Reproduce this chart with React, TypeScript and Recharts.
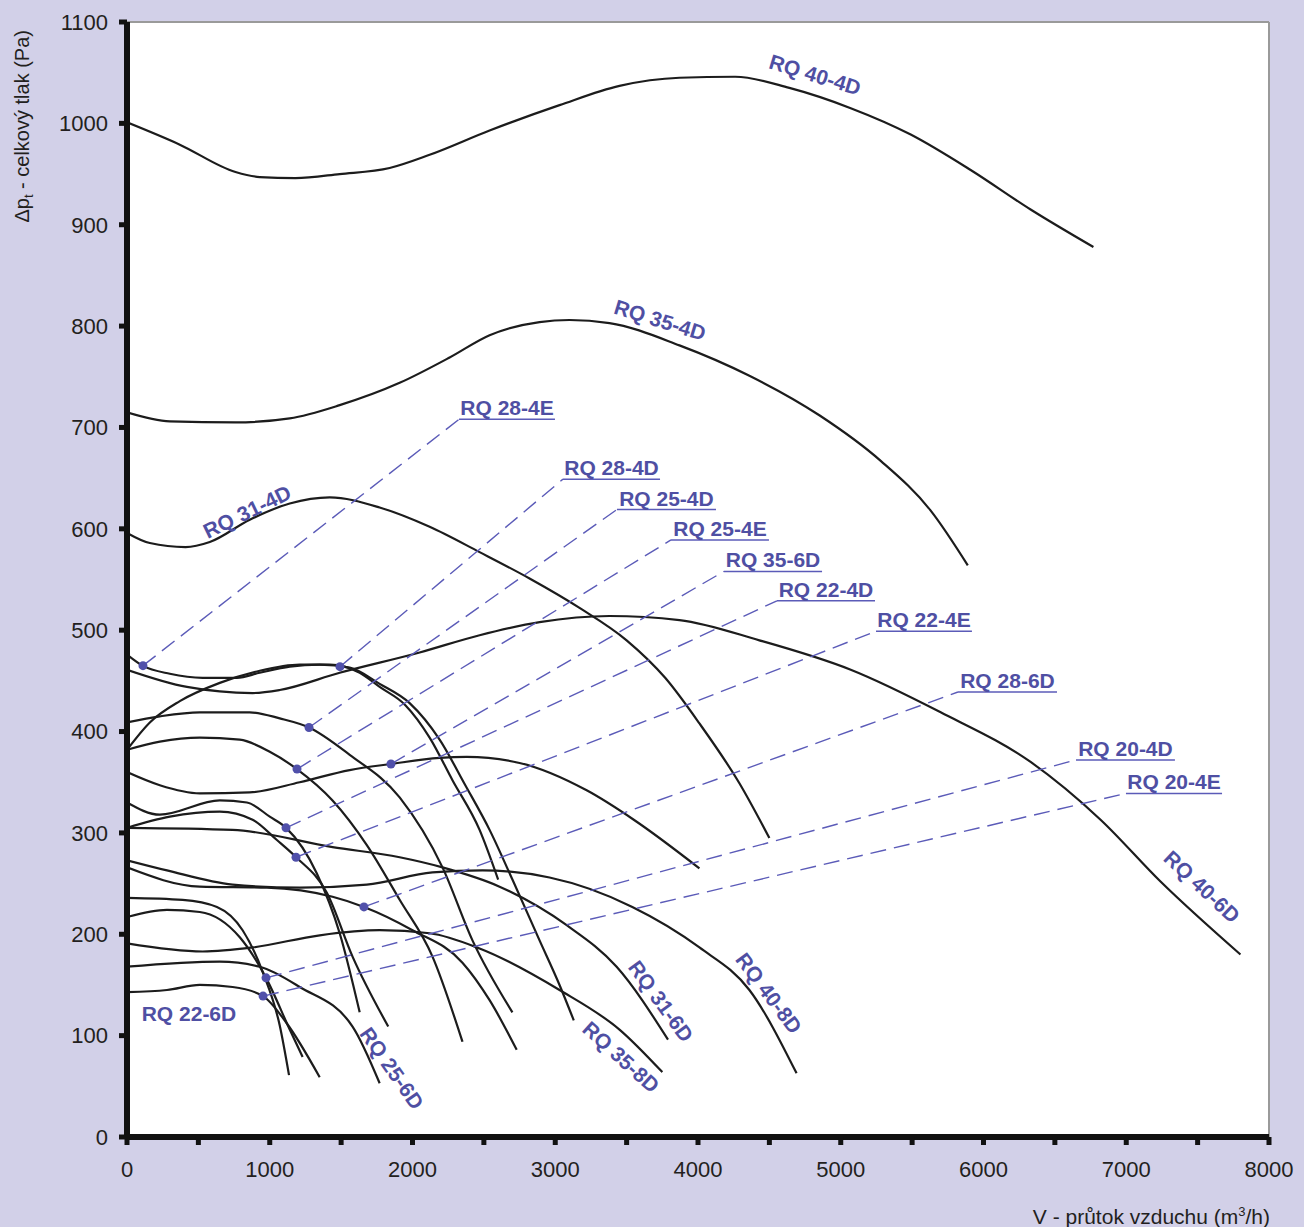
import React from 'react';
import { ComposedChart, Line, XAxis, YAxis, ReferenceLine, ReferenceDot, CartesianGrid } from 'recharts';

// ---- fan curves: flow (m3/h) and total pressure (Pa) ----
const RQ40_4D_X = [0, 370, 760, 930, 1180, 1490, 1840, 2120, 2540, 3030, 3450, 3870, 4260, 4640, 5070, 5490, 5910, 6330, 6770];
const RQ40_4D_Y = [1001, 979, 952, 947, 946, 950, 956, 969, 993, 1018, 1037, 1045, 1046, 1035, 1015, 989, 954, 915, 878];
const RQ35_4D_X = [0, 300, 760, 1140, 1490, 1910, 2260, 2540, 2890, 3100, 3380, 3870, 4360, 4850, 5280, 5630, 5890];
const RQ35_4D_Y = [715, 706, 705, 709, 722, 744, 769, 791, 804, 806, 803, 781, 751, 712, 667, 618, 564];
const RQ31_4D_X = [0, 160, 410, 580, 860, 1140, 1420, 1770, 2120, 2470, 2820, 3170, 3500, 3770, 4010, 4290, 4500];
const RQ31_4D_Y = [596, 586, 582, 587, 609, 625, 631, 621, 602, 577, 551, 522, 490, 453, 408, 349, 295];
const RQ40_6D_X = [0, 420, 880, 1070, 1490, 2050, 2470, 2890, 3380, 3870, 4430, 5070, 5700, 6330, 6820, 7240, 7800];
const RQ40_6D_Y = [461, 444, 438, 441, 458, 478, 495, 508, 514, 510, 490, 461, 419, 370, 313, 252, 180];
const RQ28_4E_X = [0, 110, 300, 530, 770, 930, 1140, 1350, 1560, 1770, 1980, 2190, 2370, 2540, 2700, 2890, 3030, 3130];
const RQ28_4E_Y = [476, 465, 457, 453, 453, 458, 464, 466, 463, 447, 428, 392, 347, 303, 254, 194, 150, 115];
const RQ28_4D_X = [0, 160, 370, 650, 930, 1210, 1420, 1630, 1770, 1950, 2120, 2280, 2470, 2600];
const RQ28_4D_Y = [382, 409, 430, 448, 460, 466, 466, 458, 444, 426, 394, 352, 303, 254];
const RQ25_4D_X = [0, 230, 510, 860, 1070, 1275, 1560, 1910, 2210, 2420, 2700];
const RQ25_4D_Y = [409, 415, 419, 419, 413, 404, 377, 335, 266, 194, 123];
const RQ25_4E_X = [0, 230, 510, 790, 1000, 1190, 1440, 1680, 1910, 2140, 2350];
const RQ25_4E_Y = [382, 390, 394, 392, 380, 363, 332, 288, 234, 178, 94];
const RQ35_6D_X = [0, 230, 510, 860, 1210, 1560, 1850, 2190, 2380, 2750, 3220, 3550, 4010];
const RQ35_6D_Y = [360, 347, 339, 340, 350, 362, 368, 374, 375, 369, 342, 313, 265];
const RQ22_4D_X = [0, 230, 650, 840, 1000, 1115, 1330, 1490, 1630];
const RQ22_4D_Y = [330, 318, 332, 330, 316, 305, 260, 201, 123];
const RQ22_4E_X = [0, 300, 650, 880, 1050, 1185, 1400, 1580, 1830];
const RQ22_4E_Y = [305, 316, 321, 313, 293, 276, 241, 178, 109];
const RQ31_6D_X = [0, 740, 1440, 1910, 2210, 2610, 3080, 3430, 3790];
const RQ31_6D_Y = [305, 303, 286, 276, 266, 247, 209, 168, 96];
const RQ40_8D_X = [0, 280, 740, 1210, 1680, 2140, 2490, 2960, 3540, 4010, 4360, 4690];
const RQ40_8D_Y = [273, 263, 249, 246, 249, 261, 263, 256, 227, 187, 145, 63];
const RQ28_6D_X = [0, 510, 980, 1440, 1660, 2000, 2350, 2540, 2730];
const RQ28_6D_Y = [266, 247, 246, 237, 227, 204, 172, 135, 86];
const RQ35_8D_X = [0, 530, 880, 1350, 1770, 2120, 2470, 3030, 3450, 3750];
const RQ35_8D_Y = [191, 183, 187, 199, 204, 201, 186, 145, 106, 64];
const RQ25_6D_X = [0, 650, 930, 1210, 1580, 1770];
const RQ25_6D_Y = [168, 173, 168, 148, 109, 53];
const RQ20_4E_X = [0, 280, 510, 740, 953, 1120, 1350];
const RQ20_4E_Y = [143, 145, 150, 148, 139, 112, 59];
const RQ20_4D_X = [0, 280, 510, 790, 974, 1140, 1230];
const RQ20_4D_Y = [217, 224, 222, 197, 157, 106, 79];
const RQ22_6D_X = [0, 390, 630, 810, 953, 1070, 1135];
const RQ22_6D_Y = [236, 234, 227, 204, 162, 110, 61];

// ---- leader-line labels ----
const LEAD_NAMES = ['RQ 28-4E', 'RQ 28-4D', 'RQ 25-4D', 'RQ 25-4E', 'RQ 35-6D', 'RQ 22-4D', 'RQ 22-4E', 'RQ 28-6D', 'RQ 20-4D', 'RQ 20-4E'];
const LEAD_DOT_X = [112, 1492, 1275, 1191, 1849, 1114, 1184, 1660, 974, 953];
const LEAD_DOT_Y = [465, 464, 404, 363, 368, 305, 276, 227, 157, 139];
const LEAD_LAB_X1 = [2326, 3054, 3432, 3811, 4182, 4553, 5247, 5821, 6648, 6998];
const LEAD_LAB_X2 = [2998, 3734, 4126, 4497, 4869, 5240, 5919, 6515, 7341, 7671];
const LEAD_LAB_Y = [708, 649, 619, 589, 558, 529, 499, 439, 372, 339];

// ---- on-curve labels ----
const CURVE_LAB_NAMES = ['RQ 40-4D', 'RQ 35-4D', 'RQ 31-4D', 'RQ 40-6D', 'RQ 40-8D', 'RQ 31-6D', 'RQ 35-8D', 'RQ 25-6D', 'RQ 22-6D'];
const CURVE_LAB_X = [4820, 3734, 841, 7531, 4497, 3741, 3461, 1856, 434];
const CURVE_LAB_Y = [1048, 806, 617, 247, 142, 134, 79, 68, 122];
const CURVE_LAB_ANGLE = [17, 17, -26, 43, 53, 54, 42, 55, 0];

const X_TICKS = [0, 500, 1000, 1500, 2000, 2500, 3000, 3500, 4000, 4500, 5000, 5500, 6000, 6500, 7000, 7500, 8000];
const Y_TICKS = [0, 100, 200, 300, 400, 500, 600, 700, 800, 900, 1000, 1100];

const pts = (xs: number[], ys: number[]) => xs.map((x, i) => ({ x, y: ys[i] }));

const CURVES = [
  pts(RQ40_4D_X, RQ40_4D_Y), pts(RQ35_4D_X, RQ35_4D_Y), pts(RQ31_4D_X, RQ31_4D_Y), pts(RQ40_6D_X, RQ40_6D_Y),
  pts(RQ28_4E_X, RQ28_4E_Y), pts(RQ28_4D_X, RQ28_4D_Y), pts(RQ25_4D_X, RQ25_4D_Y), pts(RQ25_4E_X, RQ25_4E_Y),
  pts(RQ35_6D_X, RQ35_6D_Y), pts(RQ22_4D_X, RQ22_4D_Y), pts(RQ22_4E_X, RQ22_4E_Y), pts(RQ31_6D_X, RQ31_6D_Y),
  pts(RQ40_8D_X, RQ40_8D_Y), pts(RQ28_6D_X, RQ28_6D_Y), pts(RQ35_8D_X, RQ35_8D_Y), pts(RQ25_6D_X, RQ25_6D_Y),
  pts(RQ20_4E_X, RQ20_4E_Y), pts(RQ20_4D_X, RQ20_4D_Y), pts(RQ22_6D_X, RQ22_6D_Y),
];

const FONT = '"Liberation Sans", Arial, Helvetica, sans-serif';
const BLUE = '#4f4fa3';
const DASH = '#5b5bb8';
const INK = '#231f20';

const YTitle = (props: any) => {
  const vb = props.viewBox || { x: 0, y: 22 };
  const x = 29;
  const y = vb.y + 8;
  return (
    <text x={x} y={y} transform={`rotate(-90 ${x} ${y})`} textAnchor="end" fill={INK} fontSize={20} fontFamily={FONT}>
      Δp<tspan fontSize={13} dy={4}>t</tspan><tspan dy={-4}> - celkový tlak (Pa)</tspan>
    </text>
  );
};

const XTitle = (props: any) => {
  const vb = props.viewBox || { x: 127, y: 1137, width: 1142 };
  const x = vb.x + vb.width + 1;
  const y = vb.y + 87;
  return (
    <text x={x} y={y} textAnchor="end" fill={INK} fontSize={21} fontFamily={FONT}>
      V - průtok vzduchu (m<tspan fontSize={13} dy={-8}>3</tspan><tspan dy={8}>/h)</tspan>
    </text>
  );
};

const makeCurveLabel = (i: number) => (p: any) => {
  const cx = p.cx, cy = p.cy;
  return (
    <text x={cx} y={cy} transform={`rotate(${CURVE_LAB_ANGLE[i]} ${cx} ${cy})`} textAnchor="middle" dominantBaseline="central"
      fill={BLUE} fontSize={21} fontWeight="bold" fontFamily={FONT}>
      {CURVE_LAB_NAMES[i]}
    </text>
  );
};

export default function App() {
  return (
    <div style={{ position: 'absolute', left: 0, top: 0, width: 1304, height: 1227, background: '#d2d0e8', overflow: 'hidden' }}>
      <ComposedChart width={1304} height={1227} margin={{ top: 22, right: 35, bottom: 30, left: 0 }} style={{ fontFamily: FONT }}>
        <CartesianGrid fill="#ffffff" horizontal={false} vertical={false} />
        <XAxis type="number" dataKey="x" domain={[0, 8000]} ticks={X_TICKS} interval={0} allowDataOverflow
          height={60} tickSize={8} tickMargin={16}
          tickFormatter={(v: number) => (v % 1000 === 0 ? String(v) : '')}
          axisLine={{ stroke: '#111', strokeWidth: 6 }} tickLine={{ stroke: '#111', strokeWidth: 5 }}
          tick={{ fill: INK, fontSize: 22, fontFamily: FONT }} label={XTitle} />
        <YAxis type="number" domain={[0, 1100]} ticks={Y_TICKS} interval={0} allowDataOverflow
          width={127} tickSize={8} tickMargin={11}
          axisLine={{ stroke: '#111', strokeWidth: 6 }} tickLine={{ stroke: '#111', strokeWidth: 5 }}
          tick={{ fill: INK, fontSize: 22, fontFamily: FONT }} label={YTitle} />
        <ReferenceLine y={1100} stroke="#9a9a9a" strokeWidth={2} />
        <ReferenceLine x={8000} stroke="#9a9a9a" strokeWidth={2} />

        {CURVES.map((d, i) => (
          <Line key={'c' + i} data={d} dataKey="y" type="monotone" stroke="#1c1c1c" strokeWidth={2.2}
            dot={false} activeDot={false} isAnimationActive={false} />
        ))}

        {LEAD_NAMES.map((n, i) => (
          <Line key={'l' + i} data={[{ x: LEAD_DOT_X[i], y: LEAD_DOT_Y[i] }, { x: LEAD_LAB_X1[i], y: LEAD_LAB_Y[i] }]}
            dataKey="y" type="linear" stroke={DASH} strokeWidth={1.4} strokeDasharray="16 8"
            dot={false} activeDot={false} isAnimationActive={false} />
        ))}
        {LEAD_NAMES.map((n, i) => (
          <ReferenceLine key={'u' + i} segment={[{ x: LEAD_LAB_X1[i], y: LEAD_LAB_Y[i] }, { x: LEAD_LAB_X2[i], y: LEAD_LAB_Y[i] }]}
            stroke={DASH} strokeWidth={1.5}
            label={{ value: n, position: 'top', offset: 4, fill: BLUE, fontSize: 21, fontWeight: 'bold', fontFamily: FONT }} />
        ))}
        {LEAD_NAMES.map((n, i) => (
          <ReferenceDot key={'d' + i} x={LEAD_DOT_X[i]} y={LEAD_DOT_Y[i]} r={4.5} fill="#5050aa" stroke="none" />
        ))}
        {CURVE_LAB_NAMES.map((n, i) => (
          <ReferenceDot key={'t' + i} x={CURVE_LAB_X[i]} y={CURVE_LAB_Y[i]} r={1} shape={makeCurveLabel(i)} />
        ))}
      </ComposedChart>
    </div>
  );
}
